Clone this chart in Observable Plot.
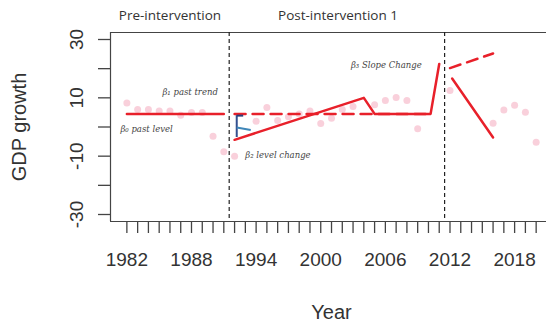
<!DOCTYPE html>
<html>
<head>
<meta charset="utf-8">
<script src="https://cdn.jsdelivr.net/npm/d3@7"></script>
<script src="https://cdn.jsdelivr.net/npm/@observablehq/plot@0.6"></script>
<style>
  html, body { margin: 0; padding: 0; background: white; overflow: hidden; }
</style>
</head>
<body>
<div id="chart"></div>
<script>
// ---- data ----
const pointYears  = [1982, 1983, 1984, 1985, 1986, 1987, 1988, 1989, 1990, 1991, 1992, 1994, 1995, 1996, 1997, 1998, 1999, 2000, 2001, 2002, 2003, 2005, 2006, 2007, 2008, 2009, 2012, 2016, 2017, 2018, 2019, 2020];
const pointValues = [8.2, 6.0, 6.0, 5.5, 5.5, 4.0, 5.0, 5.0, -3.2, -8.5, -10.0, 2.0, 6.7, 2.2, 3.5, 4.5, 5.5, 1.2, 3.0, 6.0, 7.0, 7.6, 9.1, 10.1, 9.1, -0.6, 12.5, 1.3, 5.8, 7.5, 5.1, -5.2];

const preYears = [1982, 1991];
const preValues = [4.5, 4.5];

const post1Years = [1992, 2004, 2005, 2010.2, 2011];
const post1Values = [-4.4, 10.0, 4.5, 4.5, 21.6];

const cf1Years = [1992, 2010];
const cf1Values = [4.5, 4.5];

const post2Years = [2012.2, 2016];
const post2Values = [16.6, -3.6];

const cf2Years = [2012, 2016];
const cf2Values = [20.2, 25.2];

const interventions = [1991.5, 2011.5];

const levelChangeTop = 3.9, levelChangeBottom = -3.6, levelChangeMid = -0.2;

const yTicks = [-30, -20, -10, 0, 10, 20, 30];
const yLabels = [-30, -10, 10, 30];
const xTicks = d3.range(1982, 2021);
const xLabels = [1982, 1988, 1994, 2000, 2006, 2012, 2018];

const annotations = [
  {label: "β₁ past trend", x: 1985.3, y: 11.8},
  {label: "β₀ past level", x: 1981.4, y: -0.9},
  {label: "β₂ level change", x: 1993.0, y: -9.8},
  {label: "β₃ Slope Change", x: 2002.8, y: 21.1}
];
const periods = [
  {label: "Pre-intervention", x: 1986.0},
  {label: "Post-intervention 1", x: 2001.6}
];

// ---- chart ----
const X0 = 1980.48, X1 = 2020.96, Y0 = -32.4, Y1 = 32.4;
const red = "#e8202a";
const axisGrey = "#444";

const chart = Plot.plot({
  width: 546,
  height: 324,
  marginLeft: 110,
  marginRight: 0,
  marginTop: 32,
  marginBottom: 103,
  x: {domain: [X0, X1], label: null},
  y: {domain: [Y0, Y1], label: null},
  style: {fontFamily: "'Liberation Sans', Arial, sans-serif", background: "white", overflow: "visible"},
  marks: [
    // frame (top, bottom, left)
    Plot.ruleY([Y1, Y0], {stroke: axisGrey, strokeWidth: 1.2}),
    Plot.ruleX([X0], {stroke: axisGrey, strokeWidth: 1.2}),
    // axes
    Plot.axisY({ticks: yTicks, tickSize: 12, tickFormat: () => "", stroke: axisGrey, strokeWidth: 1.3, label: null}),
    Plot.text(yLabels, {frameAnchor: "left", y: d => d, text: d => String(d), rotate: -90, dx: -28,
      textAnchor: "middle", lineAnchor: "bottom", fontSize: 19, fill: "#333"}),
    Plot.axisX({ticks: xTicks, tickSize: 12, tickPadding: 19, fontSize: 19, fill: "#333",
      tickFormat: d => xLabels.includes(d) ? String(d) : "", stroke: axisGrey, strokeWidth: 1.3, label: null}),
    Plot.text(["Year"], {frameAnchor: "bottom", dx: 3, dy: 91, fontSize: 20, fill: "#333", lineAnchor: "middle"}),
    Plot.text(["GDP growth"], {frameAnchor: "left", dx: -91, rotate: -90, fontSize: 20, fill: "#333",
      textAnchor: "middle", lineAnchor: "middle"}),
    // period labels
    Plot.text(periods, {x: "x", frameAnchor: "top", dy: -17, text: "label", fontFamily: "'Open Sans', 'Noto Sans', sans-serif",
      fontSize: 13.5, fill: "#333", lineAnchor: "middle"}),
    // intervention lines
    Plot.ruleX(interventions, {stroke: "#222", strokeWidth: 1.2, strokeDasharray: "4,3"}),
    // observed points
    Plot.dot(pointYears, {x: pointYears, y: pointValues, r: 3.5, fill: "#f08aa6", fillOpacity: 0.4, stroke: "none"}),
    // fitted segments
    Plot.line(preYears, {x: preYears, y: preValues, stroke: red, strokeWidth: 2.5}),
    Plot.line(cf1Years, {x: cf1Years, y: cf1Values, stroke: red, strokeWidth: 2.5, strokeDasharray: "11,7"}),
    Plot.line(post1Years, {x: post1Years, y: post1Values, stroke: red, strokeWidth: 2.5}),
    Plot.line(post2Years, {x: post2Years, y: post2Values, stroke: red, strokeWidth: 2.5}),
    Plot.line(cf2Years, {x: cf2Years, y: cf2Values, stroke: red, strokeWidth: 2.5, strokeDasharray: "11,7"}),
    // level change bracket
    Plot.ruleX([1992.2], {y1: levelChangeTop, y2: levelChangeBottom, stroke: "#34508f", strokeWidth: 2}),
    Plot.link([0], {x1: 1992.2, x2: 1992.8, y1: levelChangeTop, y2: levelChangeTop, stroke: "#2c3f7a", strokeWidth: 2}),
    Plot.link([0], {x1: 1992.2, x2: 1993.5, y1: levelChangeMid, y2: levelChangeMid - 0.8, stroke: "#3f86b8", strokeWidth: 2}),
    // annotations
    Plot.text(annotations, {x: "x", y: "y", text: "label", textAnchor: "start", fontFamily: "'DejaVu Serif', serif",
      fontStyle: "italic", fontSize: 8.5, fill: "#444"})
  ]
});
document.getElementById("chart").appendChild(chart);
</script>
</body>
</html>
